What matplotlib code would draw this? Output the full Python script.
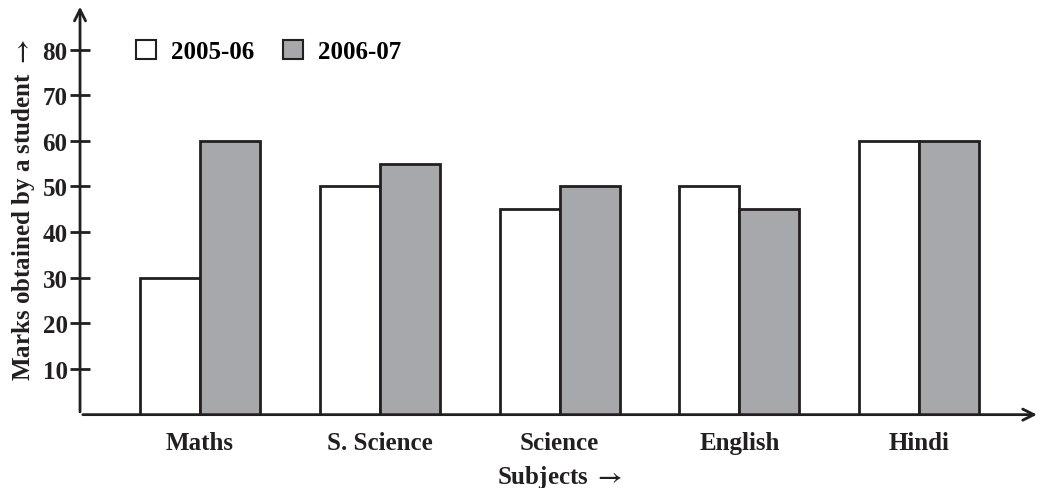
import numpy as np
import matplotlib.pyplot as plt
from matplotlib.patches import Patch

subjects = ["Maths", "S. Science", "Science", "English", "Hindi"]
marks_2005 = [30, 50, 45, 50, 60]
marks_2006 = [60, 55, 50, 45, 60]
years = ["2005-06", "2006-07"]

plt.rcParams['font.family'] = ['Liberation Serif', 'DejaVu Serif']
plt.rcParams['font.weight'] = 'bold'
plt.rcParams['mathtext.fontset'] = 'stix'

ink = '#231f20'
grey = '#a7a8ab'
fs = 18

fig = plt.figure(figsize=(10.42, 4.89), dpi=100)
ax = fig.add_axes([0.0768, 0.15, 0.921, 0.84])

x = np.arange(len(subjects))
w = 1 / 3
ax.bar(x - w / 2, marks_2005, w, color='white', edgecolor=ink, linewidth=2)
ax.bar(x + w / 2, marks_2006, w, color=grey, edgecolor=ink, linewidth=2)

ax.set_xlim(-0.667, 4.67)
ax.set_ylim(0, 90)

for s in ax.spines.values():
    s.set_visible(False)

# axes with arrow heads
ax.annotate('', xy=(0, 1.0), xytext=(0, 0), xycoords='axes fraction',
            arrowprops=dict(arrowstyle='->', color=ink, lw=2, mutation_scale=20))
ax.annotate('', xy=(1.0, 0), xytext=(0, 0), xycoords='axes fraction',
            arrowprops=dict(arrowstyle='->', color=ink, lw=2, mutation_scale=20))

ax.set_yticks(range(10, 90, 10))
ax.tick_params(axis='y', direction='inout', length=14, width=2, color=ink,
               labelsize=fs, labelcolor=ink, pad=2)
ax.set_xticks(x)
ax.set_xticklabels(subjects)
ax.tick_params(axis='x', length=0, labelsize=fs, labelcolor=ink, pad=12)

ax.set_ylabel(r"Marks obtained by a student $\rightarrow$", fontsize=fs, color=ink,
              fontweight='bold', labelpad=4)
ax.set_xlabel(r"Subjects $\rightarrow$", fontsize=fs, color=ink, fontweight='bold', labelpad=6)

handles = [Patch(facecolor='white', edgecolor=ink, linewidth=1.5),
           Patch(facecolor=grey, edgecolor=ink, linewidth=1.5)]
ax.legend(handles, years, loc='upper left', bbox_to_anchor=(0.04, 0.955), ncol=2,
          frameon=False, fontsize=fs, handlelength=0.8, handleheight=0.8,
          handletextpad=0.6, columnspacing=1.15, borderpad=0.2)

fig.savefig('out.png', dpi=100)
